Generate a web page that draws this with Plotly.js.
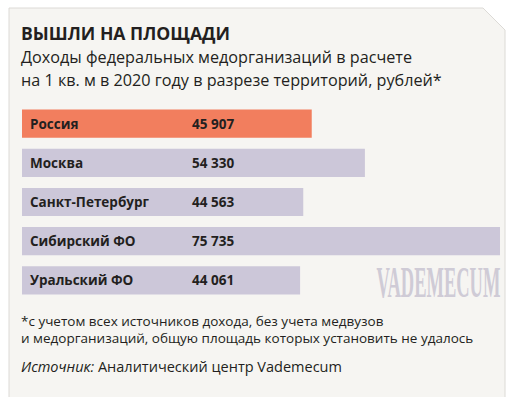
<!DOCTYPE html>
<html>
<head>
<meta charset="utf-8">
<script src="https://cdn.plot.ly/plotly-3.0.1.min.js"></script>
<style>html,body{margin:0;padding:0;background:#fff;}#chart{width:518px;height:397px;}</style>
</head>
<body>
<div id="chart"></div>
<script>
const categories = ['Россия', 'Москва', 'Санкт-Петербург', 'Сибирский ФО', 'Уральский ФО'];
const values = [45907, 54330, 44563, 75735, 44061];
const valueLabels = ['45 907', '54 330', '44 563', '75 735', '44 061'];
const highlightCategory = 'Россия';

const titleText = 'ВЫШЛИ НА ПЛОЩАДИ';
const subtitleLines = ['Доходы федеральных медорганизаций в расчете', 'на 1 кв. м в 2020 году в разрезе территорий, рублей*'];
const footnoteLines = ['*с учетом всех источников дохода, без учета медвузов', 'и медорганизаций, общую площадь которых установить не удалось'];
const sourceText = '<i>Источник:</i> Аналитический центр Vademecum';
const watermark = 'VADEMECUM';

// layout geometry (pixels)
const W = 518, H = 397;
const M = {l: 22, r: 18, t: 104, b: 97};
const PW = W - M.l - M.r, PH = H - M.t - M.b;
const px = x => (x - M.l) / PW;
const py = y => (H - M.b - y) / PH;

const FONT = 'Open Sans, sans-serif';
const DARK = '#231f20';

const trace = {
  type: 'bar',
  orientation: 'h',
  y: categories,
  x: values,
  marker: {color: categories.map(c => c === highlightCategory ? '#f27e5e' : '#ccc7d9')},
  hoverinfo: 'none',
  width: 0.72
};

const annotations = [];
categories.forEach((c, i) => {
  annotations.push({xref: 'paper', yref: 'y', x: px(28), y: c, xanchor: 'left', yanchor: 'middle',
    text: '<b>' + c + '</b>', showarrow: false, font: {family: FONT, size: 13.5, color: DARK}});
  annotations.push({xref: 'paper', yref: 'y', x: px(190), y: c, xanchor: 'left', yanchor: 'middle',
    text: '<b>' + valueLabels[i] + '</b>', showarrow: false, font: {family: FONT, size: 13.5, color: DARK}});
});
const sub = 16.2;
subtitleLines.forEach((t, i) => {
  annotations.push({xref: 'paper', yref: 'paper', x: px(19), y: py([63, 86][i] - 0.388 * sub), xanchor: 'left', yanchor: 'middle',
    text: t, showarrow: false, font: {family: FONT, size: sub, color: DARK}});
});
const fn = 13.5;
footnoteLines.forEach((t, i) => {
  annotations.push({xref: 'paper', yref: 'paper', x: px(19), y: py([326, 343][i] - 0.388 * fn), xanchor: 'left', yanchor: 'middle',
    text: t, showarrow: false, font: {family: FONT, size: fn, color: DARK}});
});
annotations.push({xref: 'paper', yref: 'paper', x: px(19), y: py(372 - 0.388 * 14.5), xanchor: 'left', yanchor: 'middle',
  text: sourceText, showarrow: false, font: {family: FONT, size: 14.5, color: DARK}});
annotations.push({xref: 'paper', yref: 'paper', x: px(438), y: py(282), xanchor: 'center', yanchor: 'middle',
  text: '<b>' + watermark + '</b>', showarrow: false, font: {family: 'Liberation Serif, serif', size: 44, color: '#cfcbd6'}});

const panelPath = 'M ' + px(9) + ' ' + py(8) + ' L ' + px(483) + ' ' + py(8) + ' L ' + px(505) + ' ' + py(30) +
  ' L ' + px(505) + ' ' + py(400) + ' L ' + px(9) + ' ' + py(400) + ' Z';

const layout = {
  width: W, height: H,
  margin: M,
  paper_bgcolor: '#ffffff',
  plot_bgcolor: 'rgba(0,0,0,0)',
  showlegend: false,
  title: {text: '<b>' + titleText + '</b>', x: 21 / W, xref: 'container', xanchor: 'left',
    y: 1 - (41 - 0.388 * 17.6) / H, yref: 'container', yanchor: 'middle', font: {family: FONT, size: 17.6, color: DARK}},
  xaxis: {range: [0, Math.max(...values)], visible: false, fixedrange: true},
  yaxis: {type: 'category', categoryorder: 'array', categoryarray: categories, range: [4.5, -0.5], visible: false, fixedrange: true},
  bargap: 0.28,
  shapes: [{type: 'path', xref: 'paper', yref: 'paper', path: panelPath, fillcolor: '#f6f5f2', line: {color: '#dcdad6', width: 1}, layer: 'below'}],
  annotations: annotations
};

Plotly.newPlot('chart', [trace], layout, {displayModeBar: false, staticPlot: true}).then(() => {
  const wm = document.querySelectorAll('.annotation');
  const last = wm[wm.length - 1];
  const t = last.querySelector('text');
  if (t) {
    t.style.transformBox = 'fill-box';
    t.style.transformOrigin = 'center';
    t.style.transform = 'scale(0.42, 1)';
  }
});
</script>
</body>
</html>
